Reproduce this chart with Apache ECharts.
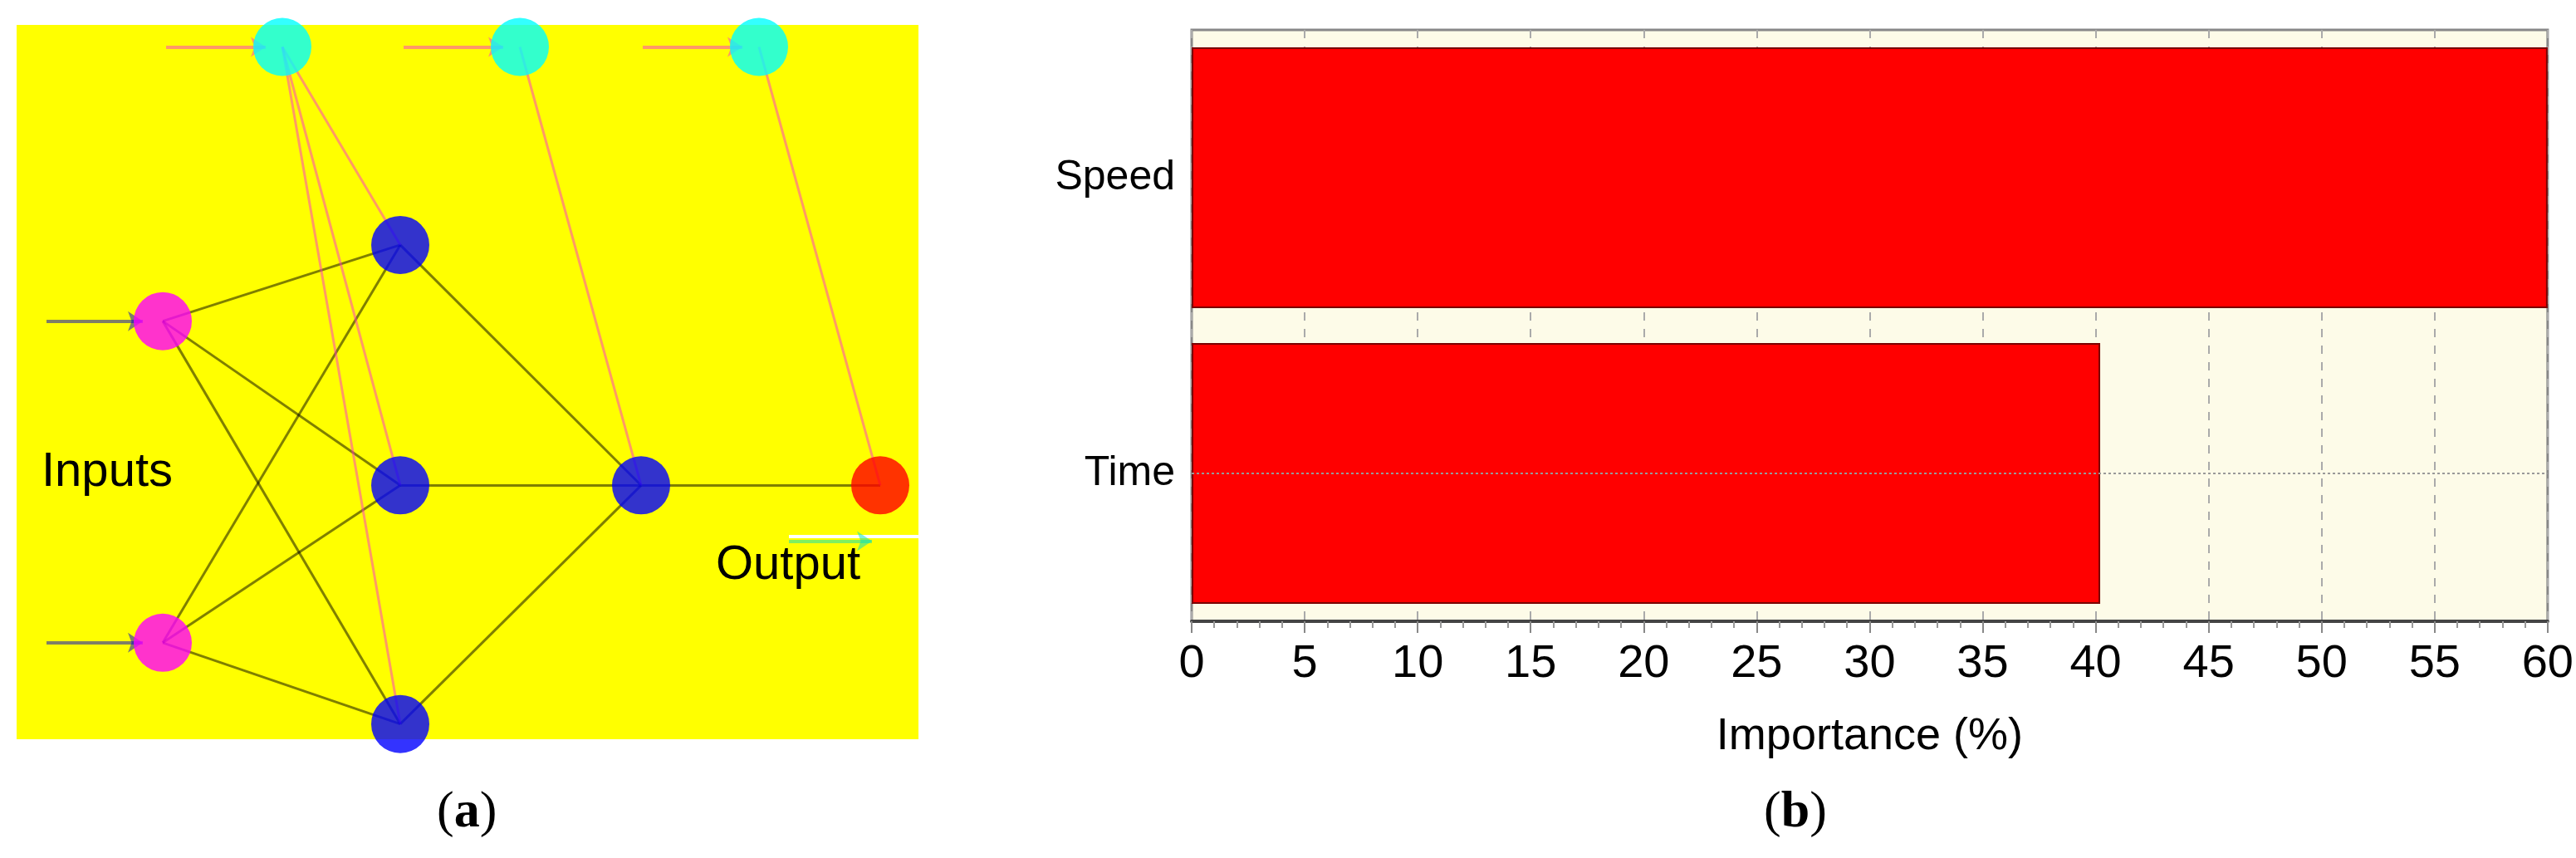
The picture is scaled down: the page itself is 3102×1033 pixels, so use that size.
<!DOCTYPE html>
<html><head><meta charset="utf-8">
<script src="https://cdn.jsdelivr.net/npm/echarts@6/dist/echarts.min.js"></script>
<style>html,body{margin:0;background:#fff}#c{width:3102px;height:1033px}</style>
</head><body><div id="c"></div>
<script>
var chart = echarts.init(document.getElementById('c'));

// panel (b) data
var factors = ['Time', 'Speed'];
var importance = [40.2, 60];
var xTicks = [0, 5, 10, 15, 20, 25, 30, 35, 40, 45, 50, 55, 60];

// panel (a) network, in picture units of the yellow box
var nodeNames = ['in1', 'in2', 'h1', 'h2', 'h3', 'o1', 'out', 'b1', 'b2', 'b3'];
var nodeX = [98, 98, 241, 241, 241, 386, 530, 170, 313, 457];
var nodeY = [190, 380, 145, 287, 428, 287, 287, 28, 28, 28];
var nodeColors = ['#ff00ff', '#ff00ff', '#0000ff', '#0000ff', '#0000ff', '#0000ff', '#ff0000', '#00ffff', '#00ffff', '#00ffff'];
var blackLinks = [['in1','h1'],['in1','h2'],['in1','h3'],['in2','h1'],['in2','h2'],['in2','h3'],
                  ['h1','o1'],['h2','o1'],['h3','o1'],['o1','out']];
var pinkLinks = [['b1','h1'],['b1','h2'],['b1','h3'],['b2','o1'],['b3','out']];
// incoming arrows: [x0, y0, x1, y1, colour]
var arrows = [[100, 28, 160, 28, '#ff33cc'], [243, 28, 303, 28, '#ff33cc'], [387, 28, 447, 28, '#ff33cc'],
              [28, 190, 86, 190, '#0000cc'], [28, 380, 86, 380, '#0000cc'], [475, 320, 525, 320, '#00e0c0']];

function pos(n) { var i = nodeNames.indexOf(n); return [nodeX[i], nodeY[i]]; }

var linkData = blackLinks.map(function (l) {
  return { coords: [pos(l[0]), pos(l[1])], lineStyle: { color: '#000', width: 3 } };
}).concat(pinkLinks.map(function (l) {
  return { coords: [pos(l[0]), pos(l[1])], lineStyle: { color: '#ff33cc', width: 3 } };
}));
var arrowData = arrows.map(function (a) {
  return { coords: [[a[0], a[1]], [a[2], a[3]]], lineStyle: { color: a[4], width: 4 } };
});

option = {
  backgroundColor: '#fff',
  textStyle: { fontFamily: 'Liberation Sans' },
  grid: [
    { left: 20, top: 30, width: 1086, height: 860, backgroundColor: '#ffff00', show: true, borderWidth: 0 },
    { left: 1435, top: 36, width: 1642, height: 712, backgroundColor: '#fdfbe8', show: true, borderColor: '#888', borderWidth: 3 }
  ],
  xAxis: [
    { gridIndex: 0, type: 'value', min: 10, max: 553, show: false },
    { gridIndex: 1, type: 'value', min: 0, max: 60, interval: 5,
      name: 'Importance (%)', nameLocation: 'middle', nameGap: 112,
      nameTextStyle: { fontSize: 54, color: '#000' },
      axisLine: { show: true, lineStyle: { color: '#444', width: 4 } },
      axisTick: { show: true, length: 14, lineStyle: { color: '#888', width: 2 } },
      minorTick: { show: true, splitNumber: 5, length: 8, lineStyle: { color: '#999', width: 2 } },
      axisLabel: { fontSize: 56, color: '#000', margin: 24,
        formatter: function (v) { return xTicks.indexOf(v) >= 0 ? String(v) : ''; } },
      splitLine: { show: true, lineStyle: { color: '#aaa', width: 2, type: [10, 10] } } }
  ],
  yAxis: [
    { gridIndex: 0, type: 'value', min: 15, max: 437, inverse: true, show: false },
    { gridIndex: 1, type: 'category', data: factors,
      axisLine: { show: false }, axisTick: { show: false },
      axisLabel: { fontSize: 50, color: '#000', margin: 20 } }
  ],
  series: [
    { type: 'lines', coordinateSystem: 'cartesian2d', xAxisIndex: 0, yAxisIndex: 0,
      polyline: false, data: linkData, z: 2, silent: true },
    { type: 'lines', coordinateSystem: 'cartesian2d', xAxisIndex: 0, yAxisIndex: 0,
      data: arrowData, symbol: ['none', 'arrow'], symbolSize: 18, z: 2, silent: true },
    { type: 'scatter', xAxisIndex: 0, yAxisIndex: 0, symbolSize: 70, z: 3,
      data: nodeX.map(function (x, i) { return { value: [x, nodeY[i]], itemStyle: { color: nodeColors[i] } }; }) },
    { type: 'bar', xAxisIndex: 1, yAxisIndex: 1, data: importance, barWidth: 314,
      itemStyle: { color: '#ff0000', borderColor: '#7a0000', borderWidth: 2 },
      markLine: { silent: true, symbol: 'none', label: { show: false },
        lineStyle: { color: '#999', width: 2, type: [3, 3] },
        data: [{ yAxis: 'Time' }] }, z: 1 }
  ],
  graphic: [
    { type: 'text', left: 50, top: 540, style: { text: 'Inputs', fontSize: 58, fill: '#000', fontFamily: 'Liberation Sans' } },
    { type: 'text', left: 862, top: 652, style: { text: 'Output', fontSize: 58, fill: '#000', fontFamily: 'Liberation Sans' } },
    { type: 'rect', shape: { x: 950, y: 644, width: 156, height: 4 }, style: { fill: '#fff' } },
    { type: 'text', left: 526, top: 948, style: { text: '({a|a})', fontSize: 62, fill: '#000', fontFamily: 'Liberation Serif',
      rich: { a: { fontSize: 62, fontWeight: 'bold', fontFamily: 'Liberation Serif' } } } },
    { type: 'text', left: 2124, top: 948, style: { text: '({a|b})', fontSize: 62, fill: '#000', fontFamily: 'Liberation Serif',
      rich: { a: { fontSize: 62, fontWeight: 'bold', fontFamily: 'Liberation Serif' } } } }
  ]
};

chart.setOption(option);
</script></body></html>
